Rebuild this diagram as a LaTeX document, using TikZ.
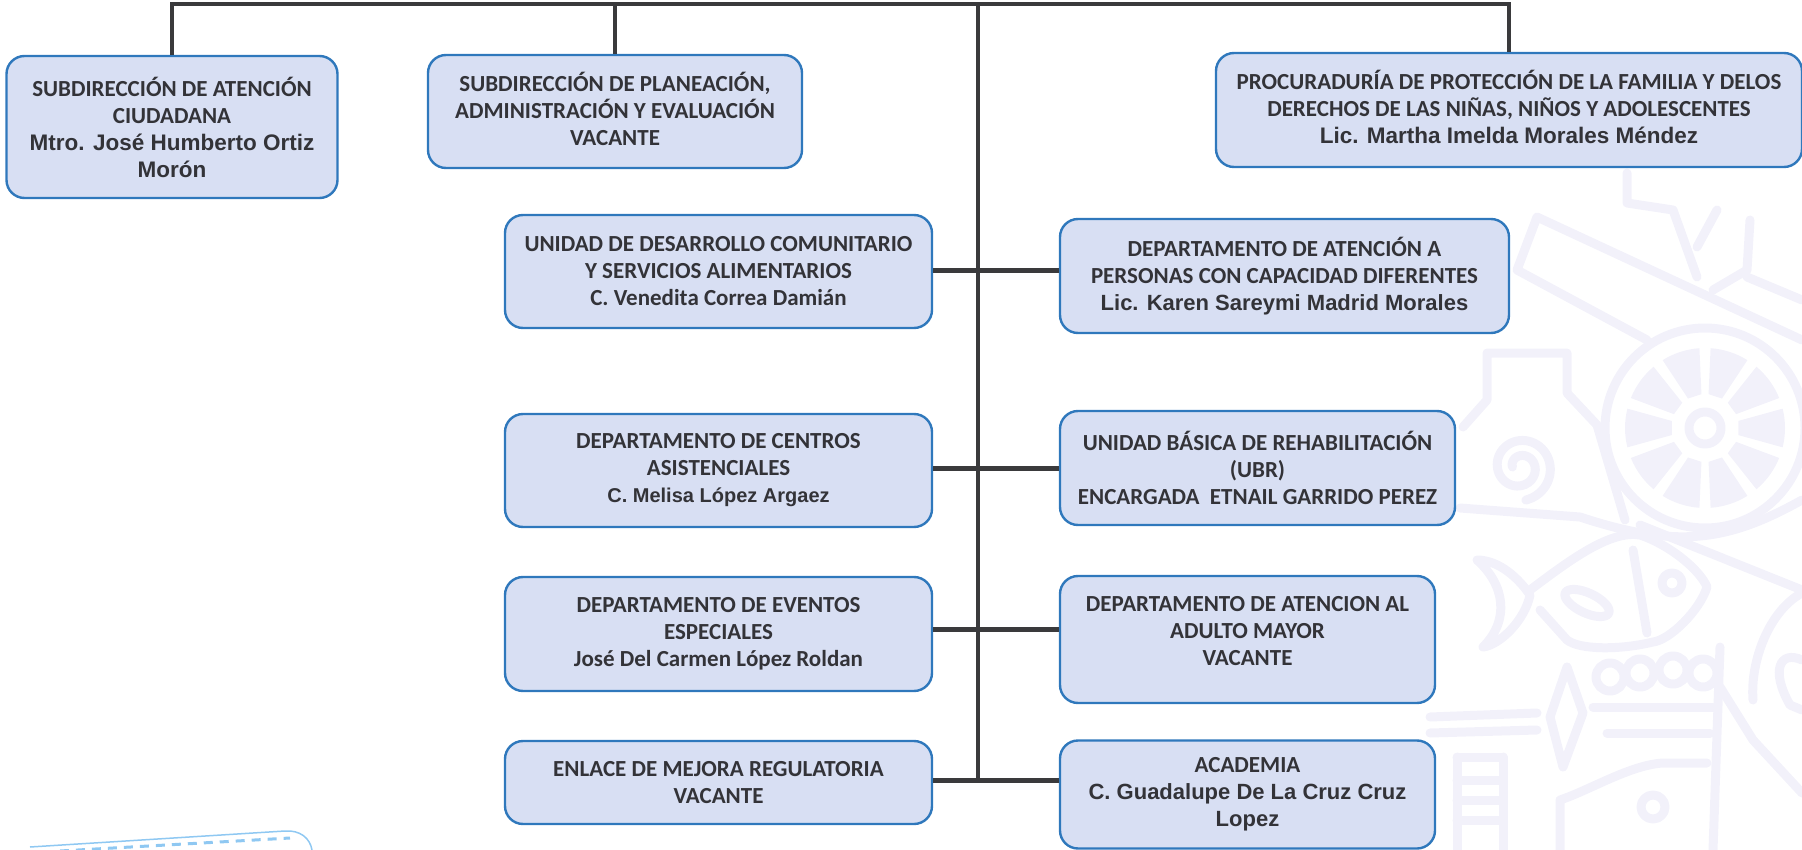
\documentclass[tikz,border=0pt]{standalone}
\usepackage{fontspec}
\usepackage{tikz}
\setmainfont{Carlito}
\newfontfamily\namefont{Liberation Sans}
\newcommand{\nombre}[2][22]{{\namefont\fontsize{#1}{27}\selectfont #2}}
\definecolor{cargoborde}{HTML}{2F78BC}
\definecolor{cargofondo}{HTML}{D8DFF3}
\definecolor{cargotexto}{HTML}{333338}
\definecolor{lineagris}{HTML}{3A3A3C}
\definecolor{marcagris}{HTML}{F2F1FA}
\definecolor{sello}{HTML}{8FC8F2}
\tikzset{
	cargo/.style={draw=cargoborde, fill=cargofondo, text=cargotexto, rounded corners=18, line width=2.4, align=center, inner sep=0, font=\bfseries\fontsize{23}{27}\selectfont},
	linea/.style={draw=lineagris, line width=4},
	rama/.style={draw=lineagris, line width=5},
	marca/.style={draw=marcagris, line width=9, line cap=round, line join=round},
}

\begin{document}
\begin{tikzpicture}[x=1pt, y=-1pt]
	\useasboundingbox (0,0) rectangle (1802,850);
	\begin{scope}
		\clip (0,0) rectangle (1802,850);
		\draw[marca] (1802,340) -- (1537,217) -- (1517,270) -- (1647,340);
		\draw[marca] (1627,173) -- (1627,203) -- (1673,210) -- (1697,277);
		\draw[marca] (1717,210) -- (1697,247);
		\draw[marca] (1750,220) -- (1747,270) -- (1713,290);
		\draw[marca] (1747,277) -- (1802,300);
		\draw[marca] (1463,427) -- (1487,400) -- (1487,353) -- (1567,353) -- (1567,393) -- (1597,425) -- (1625,520);
		\draw[marca] plot[domain=180:800, samples=50, smooth] ({1520+0.042*\x*cos(\x)},{467+0.042*\x*sin(\x)});
		\draw[marca] (1705,428) circle[radius=100];
		\draw[marca] (1705,428) circle[radius=16];
		\foreach \ang in {0,36,...,324} {
			\fill[marcagris, shift={(1705,428)}] (\ang-12:34) -- (\ang-14:80) arc[start angle=\ang-14, end angle=\ang+14, radius=80] -- (\ang+12:34) -- cycle;
		}
		\draw[marca] (1460,508) -- (1580,517) .. controls (1680,550) and (1730,540) .. (1802,500);
		\draw[marca] (1640,525) -- (1802,590);
		\draw[marca] (1530,590) .. controls (1570,560) and (1610,530) .. (1640,535) .. controls (1670,545) and (1700,570) .. (1707,587) .. controls (1700,610) and (1670,640) .. (1653,642) .. controls (1620,650) and (1580,650) .. (1567,640) -- (1540,610);
		\draw[marca] (1477,560) .. controls (1500,560) and (1520,580) .. (1530,595) .. controls (1525,620) and (1500,645) .. (1483,647) .. controls (1510,620) and (1505,585) .. (1477,560);
		\draw[marca] (1633,550) -- (1647,633);
		\draw[marca] (1672,583) circle[radius=10];
		\draw[marca] (1587,603) ellipse[x radius=24, y radius=10, rotate=-25];
		\foreach \xb/\yb in {1610/677, 1640/673, 1673/670, 1703/673} {
			\draw[marca] (\xb,\yb) circle[radius=14];
		}
		\draw[marca] (1567,667) -- (1550,717) -- (1563,767) -- (1583,713) -- cycle;
		\draw[marca] (1430,717) -- (1537,713);
		\draw[marca] (1430,733) -- (1537,730);
		\draw[marca] (1593,707) -- (1713,707);
		\draw[marca] (1607,733) -- (1710,733);
		\draw[marca] (1720,647) -- (1713,850);
		\draw[marca] (1720,687) -- (1753,740) -- (1802,793);
		\draw[marca] (1457,757) -- (1457,850);
		\draw[marca] (1503,757) -- (1503,850);
		\foreach \yr in {757,780,800,820} {
			\draw[marca] (1457,\yr) -- (1503,\yr);
		}
		\draw[marca] (1560,850) -- (1560,800) .. controls (1590,790) and (1630,765) .. (1663,763) -- (1707,763);
		\draw[marca] (1653,807) circle[radius=12];
		\draw[marca] (1802,593) .. controls (1770,610) and (1750,660) .. (1753,700);
		\draw[marca] (1802,660) .. controls (1780,650) and (1770,670) .. (1790,705) -- (1802,710);
		\draw[sello, line width=1.5] (30,847) -- (285,831) .. controls (300,830) and (310,838) .. (312,850);
		\draw[sello, line width=3, dash pattern=on 9pt off 7pt] (60,851) -- (290,838);
	\end{scope}
	\node[cargo, minimum width=331, minimum height=142] (atencion) at (172,127) {SUBDIRECCIÓN DE ATENCIÓN\\CIUDADANA\\\nombre[22.5]{Mtro. José Humberto Ortiz}\\\nombre[22.5]{Morón}};
	\node[cargo, minimum width=374, minimum height=113] (planeacion) at (615,111.5) {SUBDIRECCIÓN DE PLANEACIÓN,\\ADMINISTRACIÓN Y EVALUACIÓN\\VACANTE\\[-21pt]~};
	\node[cargo, minimum width=586, minimum height=114] (procuraduria) at (1509,110) {PROCURADURÍA DE PROTECCIÓN DE LA FAMILIA Y DELOS\\DERECHOS DE LAS NIÑAS, NIÑOS Y ADOLESCENTES\\\nombre[22.5]{Lic. Martha Imelda Morales Méndez}\\[-21pt]~};
	\node[cargo, minimum width=427, minimum height=113] (unidad) at (718.5,271.5) {UNIDAD DE DESARROLLO COMUNITARIO\\Y SERVICIOS ALIMENTARIOS\\C. Venedita Correa Damián};
	\node[cargo, minimum width=449, minimum height=114] (capacidad) at (1284.5,276) {DEPARTAMENTO DE ATENCIÓN A\\PERSONAS CON CAPACIDAD DIFERENTES\\\nombre{Lic. Karen Sareymi Madrid Morales}};
	\node[cargo, minimum width=427, minimum height=113] (centros) at (718.5,470.5) {DEPARTAMENTO DE CENTROS\\ASISTENCIALES\\\nombre[20]{C. Melisa López Argaez}};
	\node[cargo, minimum width=395, minimum height=114] (ubr) at (1257.5,468) {UNIDAD BÁSICA DE REHABILITACIÓN\\(UBR)\\ENCARGADA\ \ ETNAIL GARRIDO PEREZ};
	\node[cargo, minimum width=427, minimum height=114] (eventos) at (718.5,634) {DEPARTAMENTO DE EVENTOS\\ESPECIALES\\José Del Carmen López Roldan};
	\node[cargo, minimum width=375, minimum height=127] (adulto) at (1247.5,639.5) {DEPARTAMENTO DE ATENCION AL\\ADULTO MAYOR\\VACANTE\\[-9pt]~};
	\node[cargo, minimum width=427, minimum height=83] (enlace) at (718.5,782.5) {ENLACE DE MEJORA REGULATORIA\\VACANTE};
	\node[cargo, minimum width=375, minimum height=108] (academia) at (1247.5,794.5) {ACADEMIA\\\nombre{C. Guadalupe De La Cruz Cruz}\\\nombre{Lopez}};
	\coordinate (barra) at (978,4);
	\coordinate (tronco) at (978,780);
	\draw[linea] (atencion.north) |- (procuraduria.north |- barra) -- (procuraduria.north);
	\draw[linea] (planeacion.north) -- (planeacion.north |- barra);
	\draw[linea] (barra) -- (tronco);
	\foreach \izq/\der/\yr in {unidad/capacidad/271, centros/ubr/468, eventos/adulto/629, enlace/academia/780} {
		\coordinate (nivel) at (978,\yr);
		\draw[rama] (\izq.east |- nivel) -- (\der.west |- nivel);
	}
\end{tikzpicture}
\end{document}
